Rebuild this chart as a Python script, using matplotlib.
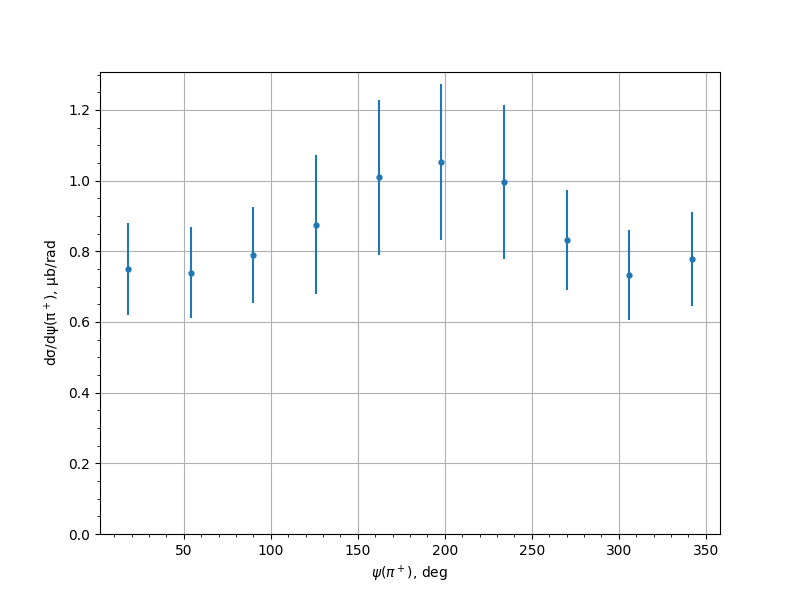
import matplotlib
matplotlib.use("Agg")
import matplotlib.pyplot as plt

# Datos
psi = [18, 54, 90, 126, 162, 198, 234, 270, 306, 342]
dsigma = [0.750, 0.739, 0.790, 0.875, 1.009, 1.053, 0.996, 0.832, 0.733, 0.778]
err = [0.130, 0.129, 0.135, 0.197, 0.220, 0.221, 0.218, 0.141, 0.127, 0.132]

fig, ax = plt.subplots(figsize=(8, 6), dpi=100)
ax.errorbar(psi, dsigma, yerr=err, fmt="o", ms=3.5)
ax.set_ylim(bottom=0)
ax.minorticks_on()
ax.grid(True, which="major")
ax.set_xlabel(r"$\psi(\pi^+)$, deg")
ax.set_ylabel(r"dσ/dψ(π$^+$), μb/rad")

plt.savefig("out.png", dpi=100)
